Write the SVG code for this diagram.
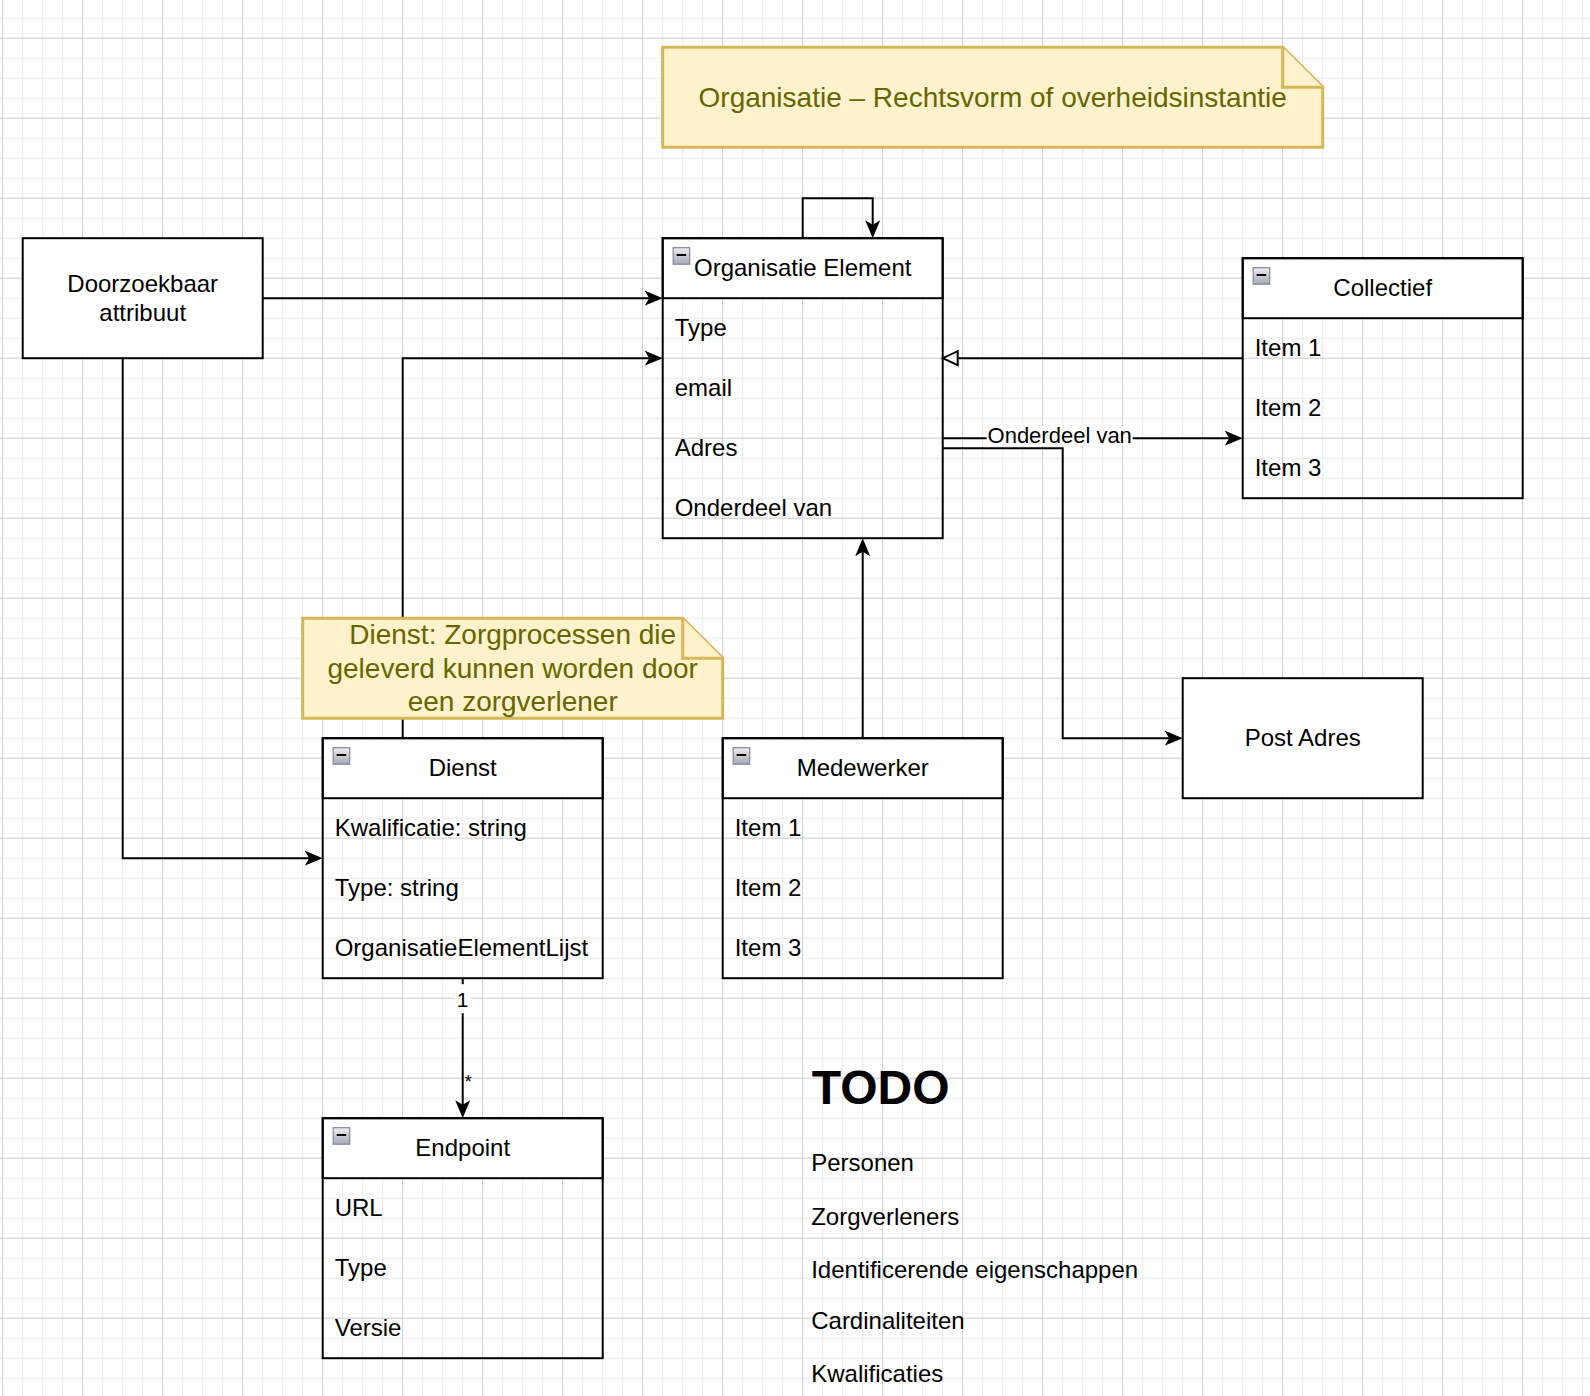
<svg xmlns="http://www.w3.org/2000/svg" width="1590" height="1396" viewBox="0 0 1590 1396">
<style>
text{font-family:"Liberation Sans",Arial,Helvetica,sans-serif;fill:#000}
.t24{font-size:24px}
.c{text-anchor:middle}
.box{fill:#fff;stroke:#000;stroke-width:2}
.frame{fill:none;stroke:#000;stroke-width:2}
.note{fill:#fff2cc;stroke:#d6b656;stroke-width:3;stroke-linejoin:miter}
.ntext{font-size:28px;fill:#666600;text-anchor:middle}
.edge{fill:none;stroke:#000;stroke-width:2}
.lbl{font-size:22px}
.icon rect{fill:url(#ig);stroke:#7f889a;stroke-width:1.2}
.icon line{stroke:#000;stroke-width:2}
</style>
<defs>
<pattern id="gmin" patternUnits="userSpaceOnUse" x="2" y="-2.3" width="20" height="20">
<path d="M0 0.5H20M0.5 0V20" stroke="#eeeeee" stroke-width="1.5" fill="none"/>
</pattern>
<pattern id="gmaj" patternUnits="userSpaceOnUse" x="2" y="37.7" width="80" height="80">
<path d="M0 0.5H80M0.5 0V80" stroke="#d3d3d3" stroke-width="1" fill="none"/>
</pattern>
<linearGradient id="ig" x1="0" y1="0" x2="0" y2="1">
<stop offset="0" stop-color="#eeeef2"/>
<stop offset="1" stop-color="#a4a9b4"/>
</linearGradient>
<marker id="arr" markerUnits="userSpaceOnUse" viewBox="0 0 18 16" markerWidth="18" markerHeight="16" refX="10" refY="8" orient="auto">
<path d="M18 8L0 0.5L4.5 8L0 15.5Z" fill="#000"/>
</marker>
<marker id="tri" markerUnits="userSpaceOnUse" viewBox="0 0 18 18" markerWidth="18" markerHeight="18" refX="1" refY="9" orient="auto">
<path d="M16 9L1 2L1 16Z" fill="#fff" stroke="#000" stroke-width="2"/>
</marker>
</defs>
<rect x="0" y="0" width="1590" height="1396" fill="#fff"/>
<rect x="0" y="0" width="1590" height="1396" fill="url(#gmin)"/>
<rect x="0" y="0" width="1590" height="1396" fill="url(#gmaj)"/>
<g transform="translate(2.7,-1.8)">
<g id="connectors">
<path class="edge" d="M260 300H652" marker-end="url(#arr)"/>
<path class="edge" d="M400 740V360H652" marker-end="url(#arr)"/>
<path class="edge" d="M800 240V200H870V232" marker-end="url(#arr)"/>
<path class="edge" d="M1240 360H955" marker-end="url(#tri)"/>
<path class="edge" d="M940 440H1232" marker-end="url(#arr)"/>
<rect x="984" y="428" width="146" height="19" fill="#fff"/>
<text class="lbl c" x="1057" y="445.3">Onderdeel van</text>
<path class="edge" d="M940 450H1060V740H1172" marker-end="url(#arr)"/>
<path class="edge" d="M860 740V548" marker-end="url(#arr)"/>
<path class="edge" d="M120 360V860H312" marker-end="url(#arr)"/>
<path class="edge" d="M460 980V1112" marker-end="url(#arr)"/>
<rect x="452" y="986" width="16" height="29" fill="#fff"/>
<text class="c" x="460" y="1009" style="font-size:21px">1</text>
<text x="462" y="1089.4" style="font-size:18px">*</text>
</g>
<g id="note-organisatie">
<path class="note" d="M660 49H1280L1320 89V149H660Z"/>
<path class="note" d="M1280 49V89H1320"/>
<text class="ntext" x="990" y="109">Organisatie – Rechtsvorm of overheidsinstantie</text>
</g>
<g id="doorzoekbaar">
<rect class="box" x="20" y="240" width="240" height="120"/>
<text class="t24 c" x="140" y="293.9">Doorzoekbaar</text>
<text class="t24 c" x="140" y="322.7">attribuut</text>
</g>
<g id="organisatie-element">
<rect class="box" x="660" y="240" width="280" height="60"/>
<rect class="frame" x="660" y="240" width="280" height="300"/>
<g class="icon"><rect x="670.5" y="249.5" width="16.5" height="16.5"/><line x1="674" y1="256.8" x2="683.5" y2="256.8"/></g>
<text class="t24 c" x="800" y="278.3">Organisatie Element</text>
<text class="t24" x="672" y="338.3">Type</text>
<text class="t24" x="672" y="398.3">email</text>
<text class="t24" x="672" y="458.3">Adres</text>
<text class="t24" x="672" y="518.3">Onderdeel van</text>
</g>
<g id="collectief">
<rect class="box" x="1240" y="260" width="280" height="60"/>
<rect class="frame" x="1240" y="260" width="280" height="240"/>
<g class="icon"><rect x="1250.5" y="269.5" width="16.5" height="16.5"/><line x1="1254" y1="276.8" x2="1263.5" y2="276.8"/></g>
<text class="t24 c" x="1380" y="298.3">Collectief</text>
<text class="t24" x="1252" y="358.3">Item 1</text>
<text class="t24" x="1252" y="418.3">Item 2</text>
<text class="t24" x="1252" y="478.3">Item 3</text>
</g>
<g id="post-adres">
<rect class="box" x="1180" y="680" width="240" height="120"/>
<text class="t24 c" x="1300" y="748.3">Post Adres</text>
</g>
<g id="note-dienst">
<path class="note" d="M300 620H680L720 660V720H300Z"/>
<path class="note" d="M680 620V660H720"/>
<text class="ntext" x="510" y="646.1">Dienst: Zorgprocessen die</text>
<text class="ntext" x="510" y="679.7">geleverd kunnen worden door</text>
<text class="ntext" x="510" y="713.3">een zorgverlener</text>
</g>
<g id="dienst">
<rect class="box" x="320" y="740" width="280" height="60"/>
<rect class="frame" x="320" y="740" width="280" height="240"/>
<g class="icon"><rect x="330.5" y="749.5" width="16.5" height="16.5"/><line x1="334" y1="756.8" x2="343.5" y2="756.8"/></g>
<text class="t24 c" x="460" y="778.3">Dienst</text>
<text class="t24" x="332" y="838.3">Kwalificatie: string</text>
<text class="t24" x="332" y="898.3">Type: string</text>
<text class="t24" x="332" y="958.3">OrganisatieElementLijst</text>
</g>
<g id="medewerker">
<rect class="box" x="720" y="740" width="280" height="60"/>
<rect class="frame" x="720" y="740" width="280" height="240"/>
<g class="icon"><rect x="730.5" y="749.5" width="16.5" height="16.5"/><line x1="734" y1="756.8" x2="743.5" y2="756.8"/></g>
<text class="t24 c" x="860" y="778.3">Medewerker</text>
<text class="t24" x="732" y="838.3">Item 1</text>
<text class="t24" x="732" y="898.3">Item 2</text>
<text class="t24" x="732" y="958.3">Item 3</text>
</g>
<g id="endpoint">
<rect class="box" x="320" y="1120" width="280" height="60"/>
<rect class="frame" x="320" y="1120" width="280" height="240"/>
<g class="icon"><rect x="330.5" y="1129.5" width="16.5" height="16.5"/><line x1="334" y1="1136.8" x2="343.5" y2="1136.8"/></g>
<text class="t24 c" x="460" y="1158.3">Endpoint</text>
<text class="t24" x="332" y="1218.3">URL</text>
<text class="t24" x="332" y="1278.3">Type</text>
<text class="t24" x="332" y="1338.3">Versie</text>
</g>
<g id="todo">
<text x="809" y="1106.3" style="font-size:48px;font-weight:bold">TODO</text>
<text class="t24" x="808.5" y="1173.3">Personen</text>
<text class="t24" x="808.5" y="1226.6">Zorgverleners</text>
<text class="t24" x="808.5" y="1279.6">Identificerende eigenschappen</text>
<text class="t24" x="808.5" y="1331.3">Cardinaliteiten</text>
<text class="t24" x="808.5" y="1384">Kwalificaties</text>
</g>
</g>
</svg>
